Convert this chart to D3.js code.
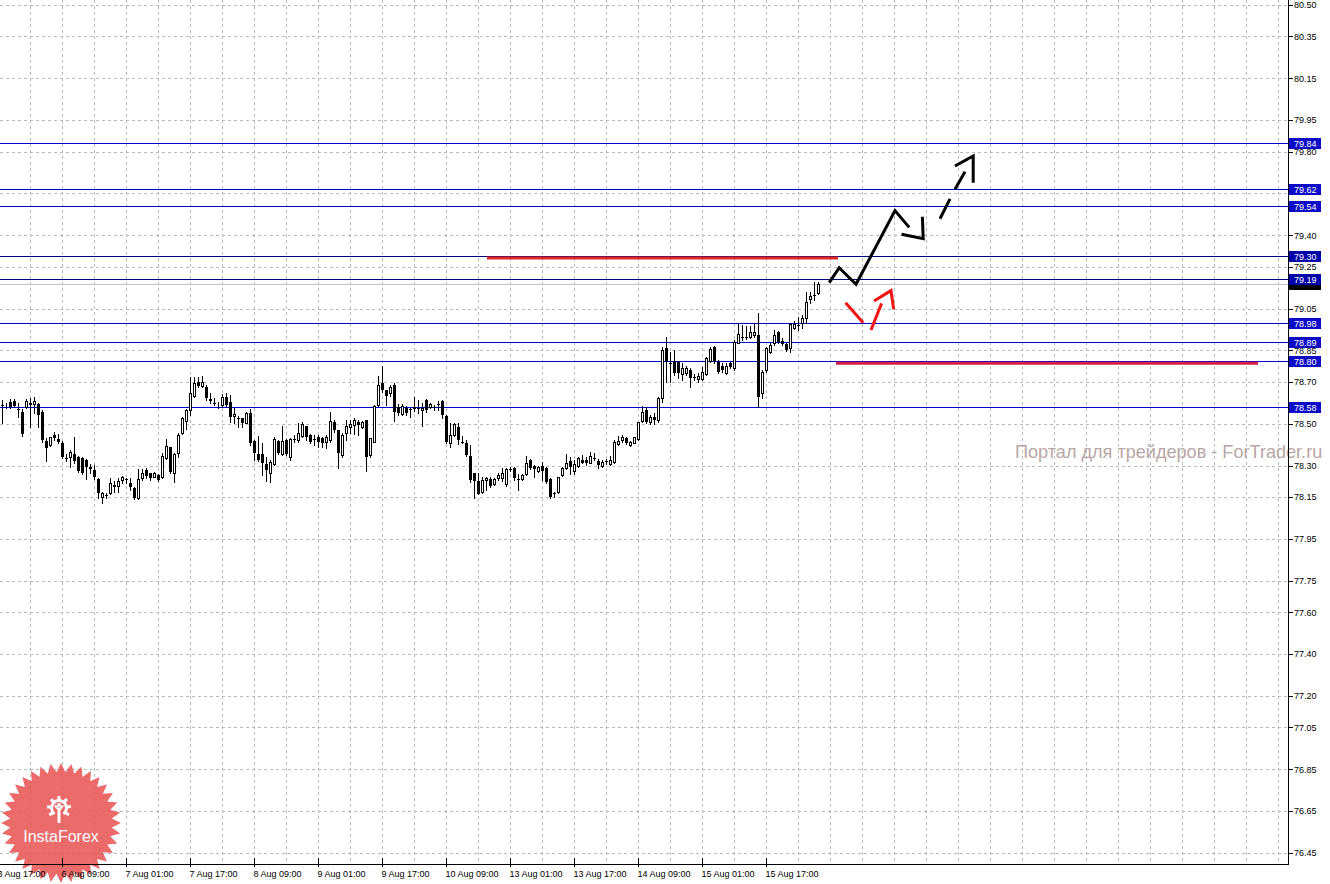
<!DOCTYPE html>
<html>
<head>
<meta charset="utf-8">
<script src="https://cdn.jsdelivr.net/npm/d3@7"></script>
<style>
html, body { margin: 0; padding: 0; background: #fff; }
svg { display: block; }
text { font-family: "Liberation Sans", Arial, sans-serif; }
</style>
</head>
<body>
<svg id="chart" width="1330" height="884"></svg>
<script>
// H1 bars, 3 Aug 18:00 .. 16 Aug, [open, high, low, close]
var ohlc = [
 [78.590,78.614,78.502,78.588],[78.590,78.598,78.574,78.592],[78.606,78.617,78.575,78.582],[78.611,78.617,78.580,78.585],
 [78.570,78.598,78.534,78.568],[78.558,78.569,78.443,78.451],[78.582,78.617,78.574,78.609],[78.598,78.622,78.486,78.592],
 [78.593,78.626,78.550,78.609],[78.595,78.598,78.486,78.542],[78.558,78.566,78.415,78.423],[78.419,78.431,78.324,78.386],
 [78.397,78.439,78.394,78.435],[78.447,78.462,78.423,78.434],[78.427,78.451,78.407,78.415],[78.410,78.419,78.335,78.343],
 [78.338,78.356,78.324,78.337],[78.343,78.375,78.295,78.367],[78.356,78.439,78.311,78.324],[78.340,78.346,78.268,78.276],
 [78.335,78.343,78.260,78.263],[78.327,78.330,78.235,78.295],[78.292,78.308,78.263,78.284],[78.279,78.303,78.235,78.244],
 [78.235,78.240,78.144,78.168],[78.149,78.176,78.123,78.171],[78.160,78.168,78.144,78.157],[78.168,78.240,78.165,78.216],
 [78.208,78.228,78.176,78.197],[78.205,78.240,78.176,78.228],[78.232,78.251,78.219,78.244],[78.235,78.240,78.216,78.235],
 [78.219,78.243,78.184,78.197],[78.192,78.197,78.139,78.144],[78.144,78.283,78.141,78.236],[78.240,78.283,78.232,78.263],
 [78.279,78.287,78.240,78.251],[78.263,78.263,78.232,78.240],[78.248,78.268,78.244,78.263],[78.256,78.260,78.228,78.232],
 [78.244,78.359,78.240,78.346],[78.335,78.426,78.330,78.394],[78.388,78.391,78.263,78.271],[78.263,78.359,78.224,78.354],
 [78.362,78.455,78.340,78.447],[78.455,78.530,78.450,78.526],[78.515,78.569,78.474,78.566],[78.566,78.722,78.542,78.646],
 [78.633,78.725,78.630,78.693],[78.701,78.725,78.677,78.682],[78.682,78.728,78.677,78.698],[78.677,78.685,78.614,78.622],
 [78.618,78.646,78.598,78.611],[78.598,78.622,78.590,78.597],[78.590,78.606,78.574,78.591],[78.590,78.642,78.582,78.630],
 [78.626,78.646,78.585,78.590],[78.606,78.638,78.510,78.534],[78.537,78.574,78.502,78.547],[78.526,78.537,78.486,78.525],
 [78.526,78.526,78.486,78.502],[78.502,78.558,78.502,78.553],[78.550,78.569,78.399,78.407],[78.418,78.423,78.327,78.362],
 [78.356,78.442,78.324,78.327],[78.356,78.407,78.256,78.315],[78.308,78.343,78.229,78.280],[78.264,78.327,78.224,78.319],
 [78.308,78.439,78.303,78.426],[78.418,78.423,78.354,78.359],[78.354,78.487,78.351,78.418],[78.423,78.426,78.351,78.354],
 [78.343,78.431,78.327,78.428],[78.428,78.447,78.415,78.427],[78.423,78.503,78.415,78.455],[78.442,78.510,78.439,78.498],
 [78.487,78.490,78.423,78.436],[78.447,78.452,78.410,78.415],[78.426,78.447,78.399,78.425],[78.439,78.447,78.391,78.415],
 [78.431,78.439,78.388,78.410],[78.415,78.447,78.383,78.439],[78.423,78.558,78.415,78.515],[78.510,78.518,78.463,78.468],
 [78.468,78.471,78.288,78.362],[78.351,78.455,78.343,78.447],[78.455,78.518,78.423,78.487],[78.483,78.518,78.455,78.499],
 [78.495,78.526,78.452,78.518],[78.510,78.518,78.447,78.495],[78.483,78.515,78.479,78.510],[78.518,78.518,78.276,78.343],
 [78.351,78.431,78.343,78.431],[78.415,78.590,78.415,78.585],[78.590,78.729,78.585,78.686],[78.694,78.776,78.654,78.662],
 [78.659,78.662,78.590,78.633],[78.646,78.686,78.633,78.674],[78.686,78.697,78.515,78.558],[78.582,78.595,78.542,78.553],
 [78.547,78.595,78.542,78.585],[78.574,78.585,78.542,78.550],[78.569,78.574,78.534,78.568],[78.574,78.627,78.563,78.582],
 [78.574,78.614,78.550,78.573],[78.566,78.598,78.487,78.574],[78.614,78.617,78.558,78.566],[78.582,78.598,78.574,78.595],
 [78.582,78.590,78.566,78.581],[78.595,78.611,78.566,78.594],[78.611,78.614,78.526,78.542],[78.538,78.542,78.407,78.415],
 [78.407,78.502,78.387,78.446],[78.446,78.502,78.442,78.499],[78.486,78.502,78.403,78.422],[78.414,78.442,78.406,78.413],
 [78.410,78.422,78.346,78.351],[78.346,78.399,78.223,78.231],[78.263,78.266,78.144,78.228],[78.228,78.266,78.165,78.165],
 [78.176,78.247,78.171,78.231],[78.231,78.247,78.184,78.239],[78.235,78.244,78.200,78.203],[78.212,78.239,78.208,78.236],
 [78.239,78.263,78.231,78.255],[78.239,78.287,78.228,78.263],[78.212,78.287,78.203,78.282],[78.282,78.292,78.276,78.281],
 [78.287,78.292,78.231,78.239],[78.236,78.260,78.184,78.235],[78.235,78.260,78.231,78.255],[78.260,78.346,78.255,78.314],
 [78.327,78.330,78.282,78.287],[78.298,78.303,78.244,78.282],[78.276,78.298,78.271,78.292],[78.298,78.319,78.231,78.276],
 [78.287,78.292,78.215,78.223],[78.235,78.239,78.144,78.152],[78.168,78.176,78.152,78.167],[78.176,78.247,78.171,78.244],
 [78.255,78.295,78.250,78.287],[78.287,78.356,78.282,78.314],[78.324,78.340,78.260,78.292],[78.276,78.327,78.260,78.308],
 [78.298,78.340,78.292,78.335],[78.327,78.351,78.311,78.314],[78.327,78.343,78.303,78.311],[78.314,78.367,78.311,78.346],
 [78.335,78.362,78.327,78.334],[78.324,78.330,78.287,78.303],[78.298,78.327,78.292,78.319],[78.324,78.330,78.308,78.323],
 [78.308,78.346,78.303,78.327],[78.319,78.422,78.314,78.414],[78.403,78.442,78.399,78.419],[78.422,78.446,78.414,78.435],
 [78.430,78.438,78.403,78.406],[78.399,78.419,78.394,78.414],[78.410,78.438,78.406,78.435],[78.426,78.510,78.422,78.510],
 [78.515,78.585,78.510,78.558],[78.566,78.582,78.505,78.510],[78.510,78.540,78.500,78.530],[78.530,78.550,78.500,78.520],
 [78.520,78.630,78.510,78.621],[78.621,78.868,78.605,78.852],[78.860,78.916,78.701,78.796],[78.792,78.844,78.701,78.790],
 [78.800,78.852,78.733,78.741],[78.796,78.800,78.717,78.744],[78.738,78.789,78.709,78.765],[78.741,78.776,78.733,78.765],
 [78.757,78.765,78.674,78.717],[78.725,78.738,78.709,78.724],[78.712,78.741,78.701,78.728],[78.712,78.773,78.709,78.749],
 [78.738,78.820,78.733,78.812],[78.801,78.868,78.796,78.855],[78.868,78.871,78.789,78.796],[78.796,78.804,78.741,78.749],
 [78.776,78.789,78.749,78.757],[78.744,78.789,78.738,78.777],[78.789,78.796,78.765,78.773],[78.765,78.900,78.757,78.892],
 [78.887,78.980,78.884,78.927],[78.913,78.972,78.900,78.912],[78.916,78.967,78.903,78.915],[78.916,78.967,78.908,78.937],
 [78.924,78.980,78.916,78.940],[78.924,79.030,78.582,78.629],[78.645,78.757,78.621,78.749],[78.757,78.868,78.749,78.860],
 [78.844,78.884,78.840,78.876],[78.884,78.948,78.876,78.924],[78.940,78.944,78.887,78.892],[78.897,78.908,78.876,78.881],
 [78.881,78.884,78.849,78.852],[78.860,78.980,78.844,78.976],[78.956,78.992,78.951,78.976],[78.972,79.011,78.948,78.971],
 [78.983,79.019,78.957,79.003],[79.004,79.131,78.980,79.083],[79.097,79.131,79.077,79.109],[79.115,79.178,79.091,79.114],
 [79.123,79.175,79.120,79.167]
];

// time axis: bar index of each label, and its text
var labelBars = [-1, 15, 31, 47, 63, 79, 95, 111, 127, 143, 159, 175, 191];
var timeLabels = ["3 Aug 17:00", "6 Aug 09:00", "7 Aug 01:00", "7 Aug 17:00", "8 Aug 09:00", "9 Aug 01:00",
                  "9 Aug 17:00", "10 Aug 09:00", "13 Aug 01:00", "13 Aug 17:00", "14 Aug 09:00", "15 Aug 01:00", "15 Aug 17:00"];

// price axis grid values
var priceTicks = [80.50, 80.35, 80.15, 79.95, 79.80, 79.60, 79.40, 79.25, 79.05, 78.85, 78.70, 78.50,
                  78.30, 78.15, 77.95, 77.75, 77.60, 77.40, 77.20, 77.05, 76.85, 76.65, 76.45];

// horizontal levels
var blueLevels = [79.84, 79.62, 79.54, 78.98, 78.89, 78.80, 78.58];
var navyLevels = [79.30, 79.19];

// red trend segments: [from bar, to bar, price]
var redSegments = [[121.25, 209, 79.292], [208.5, 314, 78.789]];

// hand drawn forecast, [bar, price]
var blackPath = [[206.8, 79.174], [209.3, 79.245], [213.5, 79.166], [223.25, 79.518], [226.8, 79.438]];
var blackHook = [[224.9, 79.405], [230.3, 79.384], [230.1, 79.489]];
var blackDashes = [[[234.5, 79.479], [237, 79.574]], [[238.25, 79.620], [240.75, 79.704]]];
var blackHead = [[238.25, 79.731], [242.8, 79.779], [242.8, 79.651]];
var redDash = [[210.9, 79.078], [215.3, 78.983]];
var redRise = [[217.25, 78.948], [219.9, 79.075]];
var redHead = [[218, 79.086], [222.25, 79.136], [222.9, 79.047]];

var W = 1288, H = 864;
var svg = d3.select("#chart");

var x = d3.scaleLinear().domain([0, 204]).range([2, 818]);
var y = d3.scaleLinear().domain([76.45, 80.50]).range([853, 5]);
var px = function(v) { return Math.round(v) + 0.5; };
var lastClose = ohlc[ohlc.length - 1][3];
var allLevels = blueLevels.concat(navyLevels);

svg.append("rect").attr("width", 1330).attr("height", 884).attr("fill", "#fff");

// grid
var grid = svg.append("g").attr("stroke", "#b4bdb4").attr("stroke-dasharray", "3,3").attr("shape-rendering", "crispEdges");
grid.selectAll("line.h").data(priceTicks).enter().append("line")
	.attr("x1", 0).attr("x2", W)
	.attr("y1", function(d) { return px(y(d)); }).attr("y2", function(d) { return px(y(d)); });
var gridBars = d3.range(7, 320, 8).filter(function(d) { return x(d) < W; });
grid.selectAll("line.v").data(gridBars).enter().append("line")
	.attr("y1", 0).attr("y2", H)
	.attr("x1", function(d) { return px(x(d)); }).attr("x2", function(d) { return px(x(d)); });

// InstaForex badge
var logo = svg.append("g").attr("transform", "translate(61,823)");
var starPts = d3.range(72).map(function(k) {
	var a = k * Math.PI / 36, r = k % 2 ? 51 : 60;
	return [r * Math.sin(a), -r * Math.cos(a)];
});
logo.append("path").attr("d", d3.line().curve(d3.curveLinearClosed)(starPts))
	.attr("fill", "#e85656").attr("opacity", 0.88);
var icon = logo.append("g").attr("transform", "translate(-2,-15)").attr("fill", "#fff");
icon.append("path").attr("d", d3.arc().innerRadius(6).outerRadius(9).startAngle(-2.5).endAngle(2.5)());
d3.range(-2.2, 2.3, 0.73).forEach(function(a) {
	icon.append("rect").attr("x", -1.5).attr("y", -12).attr("width", 3).attr("height", 4)
		.attr("transform", "rotate(" + (a * 180 / Math.PI) + ")");
});
icon.append("circle").attr("cx", 0).attr("cy", -3).attr("r", 2);
icon.append("path").attr("d", "M-5,-2 L-1.5,2 L-1.5,15 L1.5,15 L1.5,2 L5,-2 L3,-3 L0,0 L-3,-3 Z");
logo.append("text").attr("x", 0).attr("y", 18.5).attr("text-anchor", "middle")
	.attr("font-size", 16).attr("fill", "#fff").text("InstaForex");

// bid line
svg.append("line").attr("x1", 0).attr("x2", W)
	.attr("y1", px(y(lastClose))).attr("y2", px(y(lastClose)))
	.attr("stroke", "#d2bcc8").attr("shape-rendering", "crispEdges");

// levels
var levels = svg.append("g").attr("shape-rendering", "crispEdges");
levels.selectAll("line.b").data(blueLevels).enter().append("line")
	.attr("x1", 0).attr("x2", W)
	.attr("y1", function(d) { return px(y(d)); }).attr("y2", function(d) { return px(y(d)); })
	.attr("stroke", "#0000cc");
levels.selectAll("line.n").data(navyLevels).enter().append("line")
	.attr("x1", 0).attr("x2", W)
	.attr("y1", function(d) { return px(y(d)); }).attr("y2", function(d) { return px(y(d)); })
	.attr("stroke", "#00007a");

svg.selectAll("line.red").data(redSegments).enter().append("line")
	.attr("x1", function(d) { return x(d[0]); }).attr("x2", function(d) { return x(d[1]); })
	.attr("y1", function(d) { return y(d[2]); }).attr("y2", function(d) { return y(d[2]); })
	.attr("stroke", function(d, i) { return i ? "#d41e44" : "#e02828"; })
	.attr("stroke-width", 3);

// candles
var cg = svg.append("g").attr("shape-rendering", "crispEdges");
ohlc.forEach(function(d, i) {
	var cx = px(x(i));
	var top = Math.round(y(Math.max(d[0], d[3]))), bot = Math.round(y(Math.min(d[0], d[3])));
	cg.append("line").attr("x1", cx).attr("x2", cx)
		.attr("y1", Math.round(y(d[1]))).attr("y2", Math.round(y(d[2])) + 1)
		.attr("stroke", "#000");
	if (d[3] > d[0]) {
		cg.append("rect").attr("x", cx - 1).attr("y", top + 0.5)
			.attr("width", 2).attr("height", Math.max(bot - top, 0))
			.attr("fill", "#fff").attr("stroke", "#000");
	} else {
		cg.append("rect").attr("x", cx - 1.5).attr("y", top)
			.attr("width", 3).attr("height", Math.max(bot - top, 1))
			.attr("fill", "#000");
	}
});

// forecast drawing
var line = d3.line().x(function(d) { return x(d[0]); }).y(function(d) { return y(d[1]); });
var fc = svg.append("g").attr("fill", "none").attr("stroke-width", 3).attr("stroke-linejoin", "miter");
[blackPath, blackHook, blackHead].concat(blackDashes).forEach(function(p) {
	fc.append("path").attr("d", line(p)).attr("stroke", "#000");
});
[redDash, redRise, redHead].forEach(function(p) {
	fc.append("path").attr("d", line(p)).attr("stroke", "#f01414");
});

// watermark
svg.append("text").attr("x", 1015).attr("y", 458).attr("font-size", 18.1)
	.attr("fill", "#b9a6a6").text("Портал для трейдеров - ForTrader.ru");

// axes
var ax = svg.append("g").attr("shape-rendering", "crispEdges").attr("stroke", "#000");
ax.append("line").attr("x1", W + 0.5).attr("x2", W + 0.5).attr("y1", 0).attr("y2", H + 1);
ax.append("line").attr("x1", 0).attr("x2", W + 1).attr("y1", H + 0.5).attr("y2", H + 0.5);
ax.selectAll("line.yt").data(priceTicks).enter().append("line")
	.attr("x1", W).attr("x2", W + 5)
	.attr("y1", function(d) { return px(y(d)); }).attr("y2", function(d) { return px(y(d)); });
ax.selectAll("line.xt").data(labelBars).enter().append("line")
	.attr("x1", function(d) { return px(x(d)); }).attr("x2", function(d) { return px(x(d)); })
	.attr("y1", H - 6).attr("y2", H + 3);

// tick texts that sit under a price box stay hidden, as on the terminal
var hidden = function(d) {
	return allLevels.concat([lastClose]).some(function(p) { return Math.abs(y(p) - y(d)) < 5.5; });
};
svg.selectAll("text.yl").data(priceTicks.filter(function(d) { return !hidden(d); })).enter().append("text")
	.attr("x", W + 6).attr("y", function(d) { return y(d) + 3.3; })
	.attr("font-size", 9).attr("fill", "#000")
	.text(function(d) { return d.toFixed(2); });

svg.selectAll("text.xl").data(labelBars).enter().append("text")
	.attr("x", function(d) { return Math.round(x(d)) - 0.5; }).attr("y", H + 13)
	.attr("font-size", 9).attr("fill", "#000")
	.text(function(d, i) { return timeLabels[i]; });

// price labels on the axis
var boxes = svg.append("g").attr("shape-rendering", "crispEdges");
var drawBox = function(p, fill, fg, txt) {
	var cy = Math.round(y(p));
	boxes.append("rect").attr("x", W + 1).attr("y", cy - 5).attr("width", 32).attr("height", 11).attr("fill", fill);
	if (txt) boxes.append("text").attr("x", W + 6).attr("y", cy + 3.5).attr("font-size", 9).attr("fill", fg).text(txt);
};
drawBox(lastClose, "#000", "#ff3030", null);
allLevels.slice().sort(function(a, b) { return a - b; }).forEach(function(p) {
	drawBox(p, navyLevels.indexOf(p) >= 0 ? "#0000a8" : "#0c0cc8", "#fff", p.toFixed(2));
});
</script>
</body>
</html>
